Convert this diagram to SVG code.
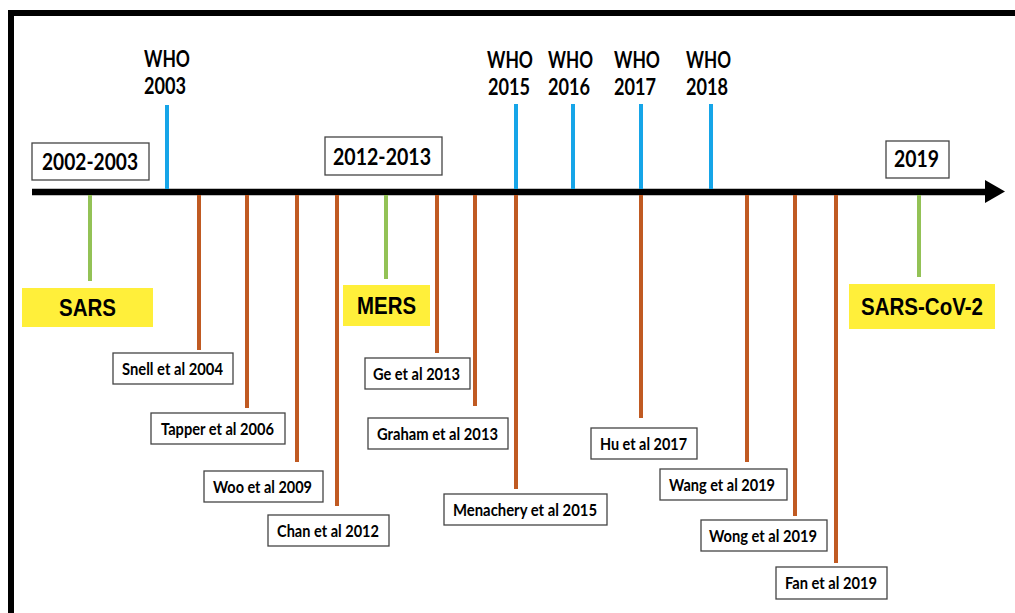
<svg xmlns="http://www.w3.org/2000/svg" width="1015" height="613" viewBox="0 0 1015 613">
<style>
.frame{stroke:#000;stroke-width:6;fill:none}
.axis{stroke:#000;stroke-width:6.5}
.who{stroke:#16A5E8;stroke-width:4}
.pub{stroke:#C05A22;stroke-width:4}
.dis{stroke:#93C256;stroke-width:4}
.lbl{fill:#fff;stroke:#444;stroke-width:1.3}
.yr{fill:#fff;stroke:#444;stroke-width:1.3}
.ylw{fill:#FFEF3A}
.t{font-family:Lato,"Open Sans","Liberation Sans",sans-serif;font-weight:700;fill:#000}
.s{font-size:17px}
.y{font-size:23.5px}
.w{font-size:22px}
.d{font-family:"Liberation Sans",Arial,sans-serif;font-weight:700;font-size:23px;fill:#000}
</style>
<rect width="1015" height="613" fill="#fff"/>
<g id="frame">
<path class="frame" d="M11,613 V13 H1015"/>
</g>
<g id="connectors">
<line class="axis" x1="32" y1="192" x2="988" y2="192"/>
<polygon points="985,180 1005,191.5 985,203" fill="#000"/>
<line class="who" x1="167" y1="105" x2="167" y2="189"/>
<line class="who" x1="516" y1="104" x2="516" y2="189"/>
<line class="who" x1="573" y1="104" x2="573" y2="189"/>
<line class="who" x1="641" y1="104" x2="641" y2="189"/>
<line class="who" x1="711" y1="104" x2="711" y2="189"/>
<line class="dis" x1="90" y1="195" x2="90" y2="281"/>
<line class="dis" x1="386" y1="195" x2="386" y2="279"/>
<line class="dis" x1="919" y1="195" x2="919" y2="277"/>
<line class="pub" x1="199" y1="195" x2="199" y2="350"/>
<line class="pub" x1="247" y1="195" x2="247" y2="408"/>
<line class="pub" x1="297" y1="195" x2="297" y2="462"/>
<line class="pub" x1="337" y1="195" x2="337" y2="506"/>
<line class="pub" x1="437" y1="195" x2="437" y2="353"/>
<line class="pub" x1="475" y1="195" x2="475" y2="406"/>
<line class="pub" x1="516" y1="195" x2="516" y2="489"/>
<line class="pub" x1="641" y1="195" x2="641" y2="418"/>
<line class="pub" x1="747" y1="195" x2="747" y2="462"/>
<line class="pub" x1="795" y1="195" x2="795" y2="516"/>
<line class="pub" x1="836" y1="195" x2="836" y2="563"/>
</g>
<g id="year-2002-2003">
<rect class="yr" x="32" y="143" width="117" height="37"/>
<text class="t y" x="42" y="170" textLength="96" lengthAdjust="spacingAndGlyphs">2002-2003</text>
</g>
<g id="year-2012-2013">
<rect class="yr" x="325" y="137" width="117" height="38"/>
<text class="t y" x="333" y="165" textLength="98" lengthAdjust="spacingAndGlyphs">2012-2013</text>
</g>
<g id="year-2019">
<rect class="yr" x="886" y="141" width="63" height="37"/>
<text class="t y" x="894" y="167" textLength="45" lengthAdjust="spacingAndGlyphs">2019</text>
</g>
<g id="who-2003">
<text class="t w" x="144" y="67" textLength="46" lengthAdjust="spacingAndGlyphs">WHO</text>
<text class="t w" x="144" y="94" textLength="42" lengthAdjust="spacingAndGlyphs">2003</text>
</g>
<g id="who-2015">
<text class="t w" x="487" y="68" textLength="46" lengthAdjust="spacingAndGlyphs">WHO</text>
<text class="t w" x="488" y="95" textLength="42" lengthAdjust="spacingAndGlyphs">2015</text>
</g>
<g id="who-2016">
<text class="t w" x="548" y="68" textLength="45" lengthAdjust="spacingAndGlyphs">WHO</text>
<text class="t w" x="548" y="95" textLength="42" lengthAdjust="spacingAndGlyphs">2016</text>
</g>
<g id="who-2017">
<text class="t w" x="614" y="68" textLength="46" lengthAdjust="spacingAndGlyphs">WHO</text>
<text class="t w" x="614" y="95" textLength="42" lengthAdjust="spacingAndGlyphs">2017</text>
</g>
<g id="who-2018">
<text class="t w" x="686" y="68" textLength="45" lengthAdjust="spacingAndGlyphs">WHO</text>
<text class="t w" x="686" y="95" textLength="42" lengthAdjust="spacingAndGlyphs">2018</text>
</g>
<g id="sars">
<rect class="ylw" x="22" y="288" width="131" height="39"/>
<text class="d" x="87.5" y="316" text-anchor="middle" textLength="57" lengthAdjust="spacingAndGlyphs">SARS</text>
</g>
<g id="mers">
<rect class="ylw" x="343" y="285" width="87" height="41"/>
<text class="d" x="386.5" y="314" text-anchor="middle" textLength="59" lengthAdjust="spacingAndGlyphs">MERS</text>
</g>
<g id="sars-cov-2">
<rect class="ylw" x="849" y="284" width="146" height="45"/>
<text class="d" x="922" y="315" text-anchor="middle" textLength="122" lengthAdjust="spacingAndGlyphs">SARS-CoV-2</text>
</g>
<g id="snell">
<rect class="lbl" x="113" y="353" width="120" height="31"/>
<text class="t s" x="122" y="375" textLength="101" lengthAdjust="spacingAndGlyphs">Snell et al 2004</text>
</g>
<g id="tapper">
<rect class="lbl" x="151" y="413" width="134" height="31"/>
<text class="t s" x="161" y="435" textLength="113" lengthAdjust="spacingAndGlyphs">Tapper et al 2006</text>
</g>
<g id="woo">
<rect class="lbl" x="204" y="471" width="119" height="31"/>
<text class="t s" x="213" y="493" textLength="99" lengthAdjust="spacingAndGlyphs">Woo et al 2009</text>
</g>
<g id="chan">
<rect class="lbl" x="268" y="515" width="121" height="31"/>
<text class="t s" x="277" y="537" textLength="102" lengthAdjust="spacingAndGlyphs">Chan et al 2012</text>
</g>
<g id="ge">
<rect class="lbl" x="365" y="358" width="105" height="31"/>
<text class="t s" x="373" y="380" textLength="87" lengthAdjust="spacingAndGlyphs">Ge et al 2013</text>
</g>
<g id="graham">
<rect class="lbl" x="368" y="418" width="140" height="31"/>
<text class="t s" x="377" y="440" textLength="121" lengthAdjust="spacingAndGlyphs">Graham et al 2013</text>
</g>
<g id="menachery">
<rect class="lbl" x="444" y="494" width="163" height="31"/>
<text class="t s" x="453" y="516" textLength="144" lengthAdjust="spacingAndGlyphs">Menachery et al 2015</text>
</g>
<g id="hu">
<rect class="lbl" x="591" y="428" width="106" height="31"/>
<text class="t s" x="600" y="450" textLength="87" lengthAdjust="spacingAndGlyphs">Hu et al 2017</text>
</g>
<g id="wang">
<rect class="lbl" x="660" y="469" width="127" height="31"/>
<text class="t s" x="669" y="491" textLength="106" lengthAdjust="spacingAndGlyphs">Wang et al 2019</text>
</g>
<g id="wong">
<rect class="lbl" x="701" y="520" width="126" height="31"/>
<text class="t s" x="709" y="542" textLength="108" lengthAdjust="spacingAndGlyphs">Wong et al 2019</text>
</g>
<g id="fan">
<rect class="lbl" x="776" y="567" width="111" height="32"/>
<text class="t s" x="785" y="589" textLength="92" lengthAdjust="spacingAndGlyphs">Fan et al 2019</text>
</g>
</svg>
